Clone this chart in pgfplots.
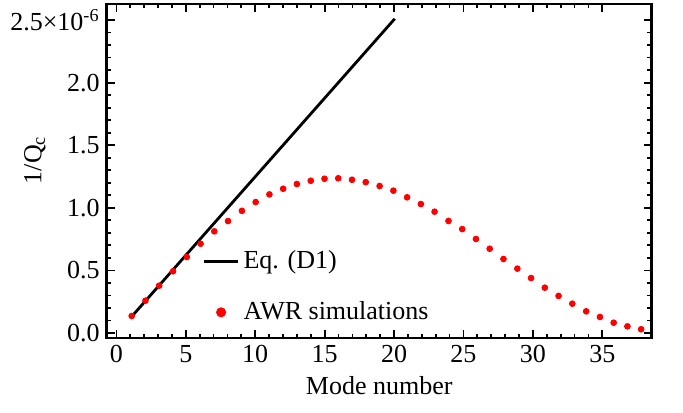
\documentclass[border=0pt]{standalone}
\usepackage{fontspec}
\setmainfont{Liberation Serif}
\usepackage{pgfplots}
\pgfplotsset{compat=1.18}
\pgfplotstableread{
x y
1.10 0.136
2.09 0.258
3.08 0.378
4.08 0.493
5.07 0.607
6.06 0.713
7.05 0.812
8.04 0.894
9.04 0.976
10.03 1.046
11.02 1.107
12.01 1.152
13.00 1.190
14.00 1.216
14.99 1.232
15.98 1.236
16.97 1.224
17.96 1.205
18.96 1.174
19.95 1.137
20.94 1.084
21.93 1.030
22.92 0.969
23.92 0.895
24.91 0.830
25.90 0.751
26.89 0.673
27.88 0.591
28.88 0.514
29.87 0.439
30.86 0.362
31.85 0.296
32.84 0.234
33.84 0.173
34.83 0.128
35.82 0.082
36.81 0.053
37.80 0.030
}\awr
\newcommand{\f}{\fontsize{13}{15.6}\selectfont}
\begin{document}
\begin{tikzpicture}
\begin{axis}[
  name=ax,
  scale only axis, width=272.5pt, height=167pt,
  xmin=-0.7, xmax=38.56, ymin=-0.04, ymax=2.628,
  axis line style={line width=1.3pt},
  tick style={line width=0.9pt, black},
  tick align=inside,
  major tick length=4pt, minor tick length=2.2pt,
  xtick={0,5,...,35}, xticklabels={0,5,10,15,20,25,30,35},
  minor x tick num=4,
  ytick={0,0.5,1,1.5,2,2.5},
  yticklabels={0.0,0.5,1.0,1.5,2.0,{2.5×10\textsuperscript{-6}}},
  minor y tick num=4,
  tick label style={font=\f},
  label style={font=\f},
  xlabel={Mode number},
  ylabel={1/Q\textsubscript{c}},
  ylabel style={at={(axis description cs:-0.132,0.533)}, anchor=center, rotate=0},
  legend style={draw=none, fill=none, at={(axis cs:5.75,0.724)}, anchor=north west, font=\f, row sep=11pt},
  legend cell align=left,
]
\addplot[black, line width=1.4pt] coordinates {(1.2,0.144) (20.05,2.51)};
\addlegendentry{Eq. (D1)}
\addplot[only marks, mark=*, mark size=1.45pt, red, mark options={draw=red, fill=red},
  legend image code/.code={\fill[red] (0.3cm,0) circle (2.3pt);}] table[x=x,y=y] {\awr};
\addlegendentry{AWR simulations}
\end{axis}
\pgfresetboundingbox
\path[use as bounding box] ([xshift=-53.35pt,yshift=-37pt]ax.south west) rectangle ([xshift=15.65pt,yshift=2pt]ax.north east);
\end{tikzpicture}
\end{document}
